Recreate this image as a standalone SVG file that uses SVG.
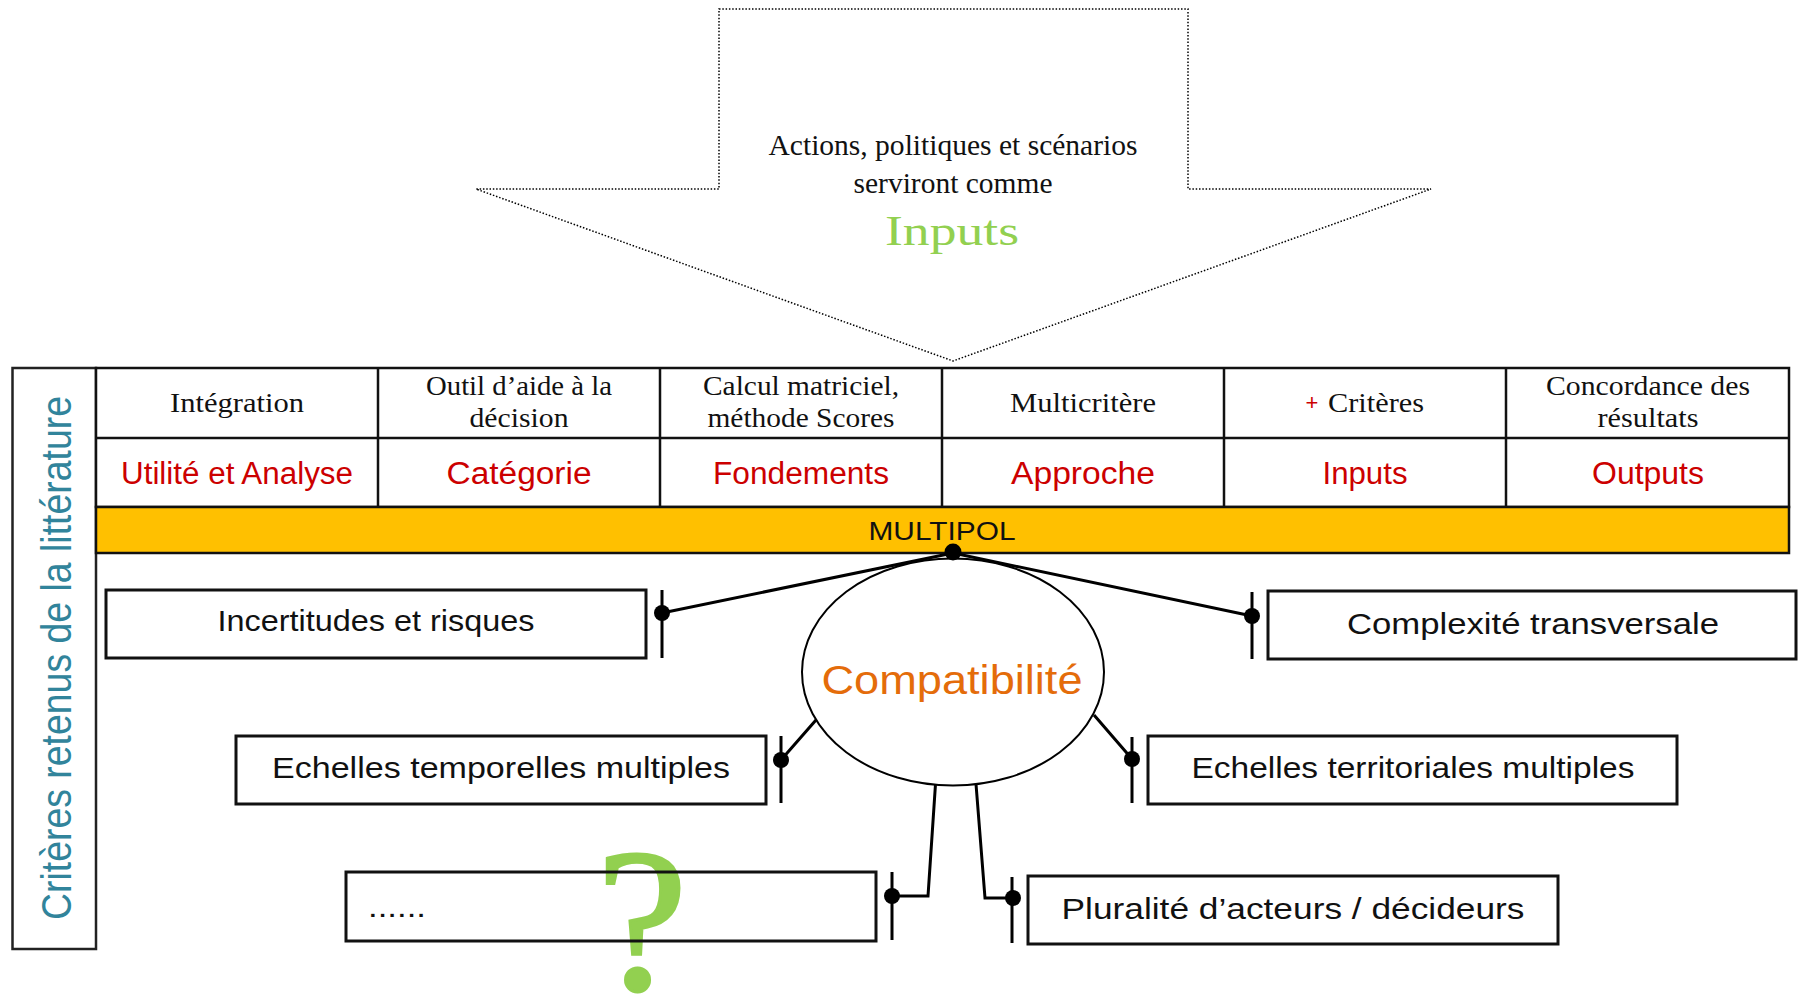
<svg xmlns="http://www.w3.org/2000/svg" width="1798" height="996" viewBox="0 0 1798 996">
<style>
.serif{font-family:"Liberation Serif","Times New Roman",serif;fill:#111}
.sans{font-family:"Liberation Sans",Arial,sans-serif;fill:#111}
.red{fill:#CC0000}
.box{fill:none;stroke:#111;stroke-width:3}
.tbl{fill:none;stroke:#111;stroke-width:2.5}
.con{fill:none;stroke:#000;stroke-width:3}
.dot{fill:#000}
</style>
<rect width="1798" height="996" fill="#fff"/>

<g id="arrow">
<path d="M719,9 H1188 V189 H1431 L953,361 L476,189 H719 Z" fill="none" stroke="#000" stroke-width="1.5" stroke-dasharray="1.5 1.8"/>
<text class="serif" x="953" y="155" font-size="29" text-anchor="middle" textLength="369" lengthAdjust="spacingAndGlyphs">Actions, politiques et scénarios</text>
<text class="serif" x="953" y="193" font-size="29" text-anchor="middle" textLength="199" lengthAdjust="spacingAndGlyphs">serviront comme</text>
<text class="serif" x="952" y="245" font-size="42" text-anchor="middle" textLength="134" lengthAdjust="spacingAndGlyphs" style="fill:#92D050">Inputs</text>
</g>

<g id="side-label">
<rect x="12.5" y="368" width="83.5" height="581" fill="none" stroke="#222" stroke-width="2.5"/>
<text class="sans" transform="translate(71,658) rotate(-90)" x="0" y="0" font-size="42" text-anchor="middle" textLength="524" lengthAdjust="spacingAndGlyphs" style="fill:#31849B">Critères retenus de la littérature</text>
</g>

<g id="table">
<rect x="96" y="368" width="1693" height="139" fill="#fff" stroke="#111" stroke-width="2.5"/>
<path class="tbl" d="M96,438 H1789 M378,368 V507 M660,368 V507 M942,368 V507 M1224,368 V507 M1506,368 V507"/>
<text class="serif" x="237" y="412" font-size="27" text-anchor="middle" textLength="134" lengthAdjust="spacingAndGlyphs">Intégration</text>
<text class="serif" x="519" y="395" font-size="27" text-anchor="middle" textLength="186" lengthAdjust="spacingAndGlyphs">Outil d’aide à la</text>
<text class="serif" x="519" y="427" font-size="27" text-anchor="middle" textLength="99" lengthAdjust="spacingAndGlyphs">décision</text>
<text class="serif" x="801" y="395" font-size="27" text-anchor="middle" textLength="196" lengthAdjust="spacingAndGlyphs">Calcul matriciel,</text>
<text class="serif" x="801" y="427" font-size="27" text-anchor="middle" textLength="187" lengthAdjust="spacingAndGlyphs">méthode Scores</text>
<text class="serif" x="1083" y="412" font-size="27" text-anchor="middle" textLength="146" lengthAdjust="spacingAndGlyphs">Multicritère</text>
<text class="sans red" x="1312" y="410" font-size="22" text-anchor="middle">+</text>
<text class="serif" x="1328" y="412" font-size="27" textLength="96" lengthAdjust="spacingAndGlyphs">Critères</text>
<text class="serif" x="1648" y="395" font-size="27" text-anchor="middle" textLength="204" lengthAdjust="spacingAndGlyphs">Concordance des</text>
<text class="serif" x="1648" y="427" font-size="27" text-anchor="middle" textLength="101" lengthAdjust="spacingAndGlyphs">résultats</text>
<text class="sans red" x="237" y="484" font-size="31" text-anchor="middle" textLength="232" lengthAdjust="spacingAndGlyphs">Utilité et Analyse</text>
<text class="sans red" x="519" y="484" font-size="31" text-anchor="middle" textLength="145" lengthAdjust="spacingAndGlyphs">Catégorie</text>
<text class="sans red" x="801" y="484" font-size="31" text-anchor="middle" textLength="176" lengthAdjust="spacingAndGlyphs">Fondements</text>
<text class="sans red" x="1083" y="484" font-size="31" text-anchor="middle" textLength="144" lengthAdjust="spacingAndGlyphs">Approche</text>
<text class="sans red" x="1365" y="484" font-size="31" text-anchor="middle" textLength="85" lengthAdjust="spacingAndGlyphs">Inputs</text>
<text class="sans red" x="1648" y="484" font-size="31" text-anchor="middle" textLength="112" lengthAdjust="spacingAndGlyphs">Outputs</text>
</g>

<g id="multipol">
<rect x="96" y="507" width="1693" height="46" fill="#FFC000" stroke="#111" stroke-width="2.5"/>
<text class="sans" x="942" y="540" font-size="25" text-anchor="middle" textLength="147" lengthAdjust="spacingAndGlyphs">MULTIPOL</text>
</g>

<g id="compatibilite">
<ellipse cx="953" cy="672" rx="151" ry="113.5" fill="#fff" stroke="#000" stroke-width="2"/>
<text class="sans" x="952" y="694" font-size="40" text-anchor="middle" textLength="261" lengthAdjust="spacingAndGlyphs" style="fill:#E46C0A">Compatibilité</text>
</g>

<g id="connectors">
<path class="con" d="M953,553 L662,613 M953,553 L1252,616 M816,720 L781,760 M1094,715 L1132,759 M935.5,784 L928,896 H892 M976,784 L985,898 H1013"/>
<path class="con" d="M662,590 V658 M1252,592 V659 M781,736 V803 M1132,737 V803 M892,872 V940 M1012,877 V943"/>
<circle class="dot" cx="953" cy="552" r="8.5"/>
<circle class="dot" cx="662" cy="613" r="8"/>
<circle class="dot" cx="1252" cy="616" r="8"/>
<circle class="dot" cx="781" cy="760" r="8"/>
<circle class="dot" cx="1132" cy="759" r="8"/>
<circle class="dot" cx="892" cy="896" r="8"/>
<circle class="dot" cx="1013" cy="898" r="8"/>
</g>

<g id="incertitudes">
<rect class="box" x="106" y="590" width="540" height="68"/>
<text class="sans" x="376" y="631" font-size="29" text-anchor="middle" textLength="317" lengthAdjust="spacingAndGlyphs">Incertitudes et risques</text>
</g>

<g id="complexite">
<rect class="box" x="1268" y="591" width="528" height="68"/>
<text class="sans" x="1533" y="634" font-size="29" text-anchor="middle" textLength="372" lengthAdjust="spacingAndGlyphs">Complexité transversale</text>
</g>

<g id="temporelles">
<rect class="box" x="236" y="736" width="530" height="68"/>
<text class="sans" x="501" y="778" font-size="29" text-anchor="middle" textLength="458" lengthAdjust="spacingAndGlyphs">Echelles temporelles multiples</text>
</g>

<g id="territoriales">
<rect class="box" x="1148" y="736" width="529" height="68"/>
<text class="sans" x="1413" y="778" font-size="29" text-anchor="middle" textLength="443" lengthAdjust="spacingAndGlyphs">Echelles territoriales multiples</text>
</g>

<g id="autres">
<rect x="346" y="872" width="530" height="69" fill="#fff"/>
<text class="serif" x="642" y="989" font-size="204" text-anchor="middle" stroke="#92D050" stroke-width="3" style="fill:#92D050">?</text>
<rect class="box" x="346" y="872" width="530" height="69"/>
<text class="sans" x="368" y="917" font-size="29" textLength="58" lengthAdjust="spacingAndGlyphs">......</text>
</g>

<g id="pluralite">
<rect class="box" x="1028" y="876" width="530" height="68"/>
<text class="sans" x="1293" y="919" font-size="29" text-anchor="middle" textLength="463" lengthAdjust="spacingAndGlyphs">Pluralité d’acteurs / décideurs</text>
</g>
</svg>
